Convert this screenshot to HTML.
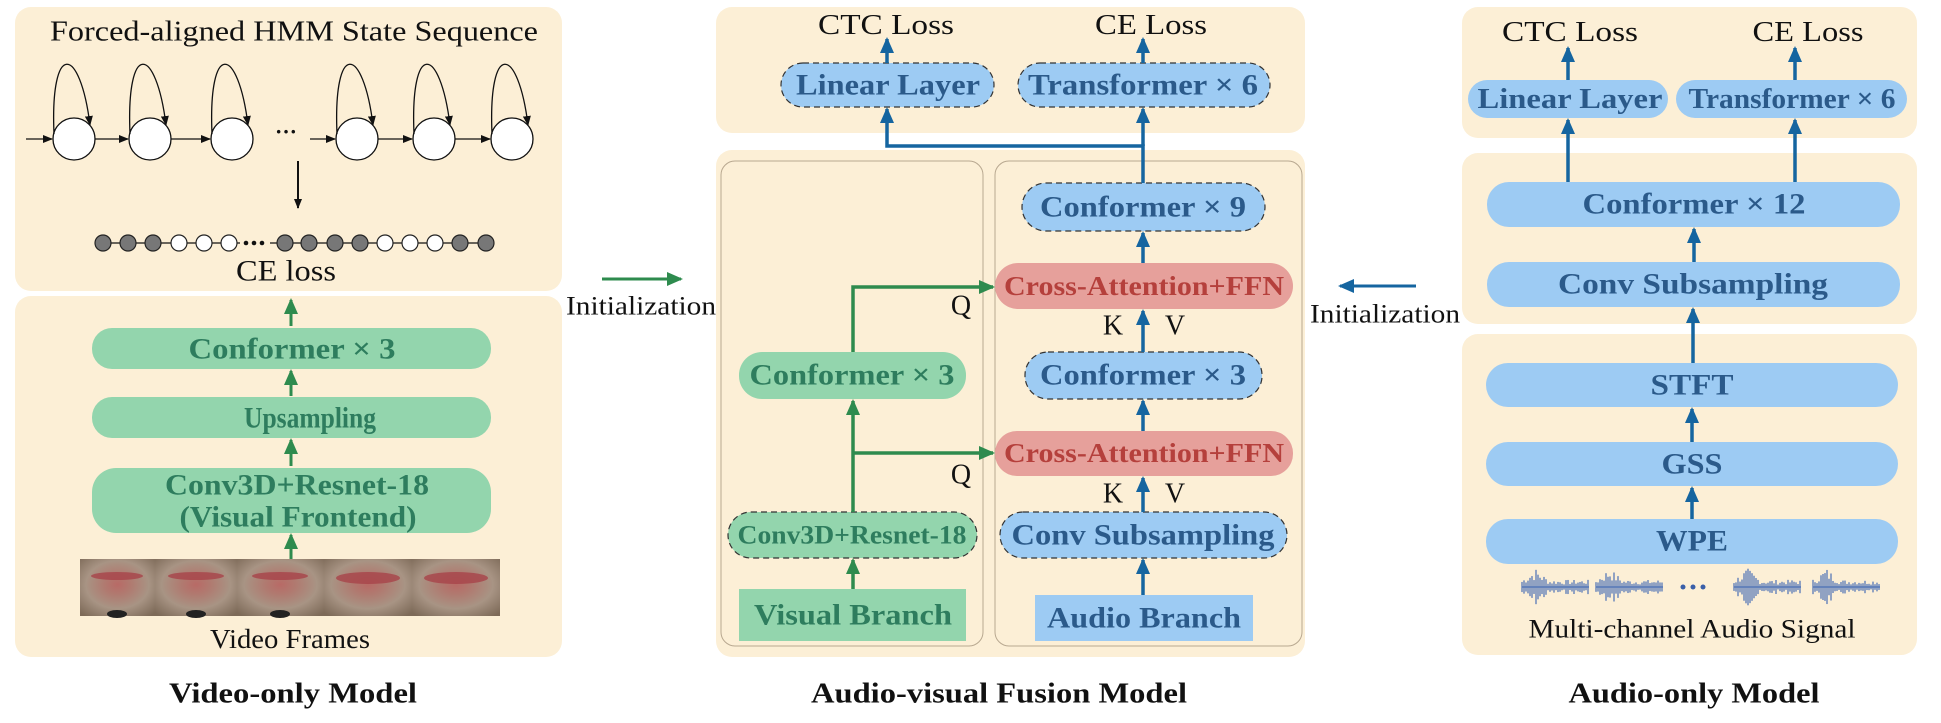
<!DOCTYPE html>
<html><head><meta charset="utf-8"><style>
html,body{margin:0;padding:0;background:#fff;}
svg{display:block;}
text{font-family:"Liberation Serif",serif;}
.b{font-weight:bold;}
</style></head><body>
<svg width="1941" height="723" viewBox="0 0 1941 723" xmlns="http://www.w3.org/2000/svg">
<defs>
<marker id="ak" markerWidth="10" markerHeight="8" refX="9" refY="4" orient="auto" markerUnits="userSpaceOnUse"><path d="M0,0 L10,4 L0,8 z" fill="#111"/></marker>
<marker id="ab" markerWidth="16" markerHeight="14" refX="14" refY="7" orient="auto" markerUnits="userSpaceOnUse"><path d="M0,0 L16,7 L0,14 z" fill="#1565a0"/></marker>
<marker id="ag" markerWidth="16" markerHeight="14" refX="14" refY="7" orient="auto" markerUnits="userSpaceOnUse"><path d="M0,0 L16,7 L0,14 z" fill="#2e8b4e"/></marker>
<radialGradient id="fr" cx="0.5" cy="0.45" r="0.7">
<stop offset="0" stop-color="#b86a66"/><stop offset="0.25" stop-color="#b07a70"/><stop offset="0.6" stop-color="#a89484"/><stop offset="1" stop-color="#7d6a58"/>
</radialGradient>
</defs>

<!-- ================= LEFT ================= -->
<rect x="15" y="7" width="547" height="284" rx="16" fill="#fcefd6"/>
<rect x="15" y="296" width="547" height="361" rx="16" fill="#fcefd6"/>
<text x="294" y="32" font-size="28" text-anchor="middle" dominant-baseline="central" textLength="488" lengthAdjust="spacingAndGlyphs" fill="#111">Forced-aligned HMM State Sequence</text>

<g fill="#fff" stroke="#111" stroke-width="1.3">
<circle cx="74" cy="139" r="21"/><circle cx="150" cy="139" r="21"/><circle cx="232" cy="139" r="21"/>
<circle cx="357" cy="139" r="21"/><circle cx="434" cy="139" r="21"/><circle cx="512" cy="139" r="21"/>
</g>
<g fill="none" stroke="#111" stroke-width="1.3" marker-end="url(#ak)">
<path d="M54,134 C50,40 80,45 90,125"/>
<path d="M130,134 C126,40 156,45 166,125"/>
<path d="M212,134 C208,40 238,45 248,125"/>
<path d="M337,134 C333,40 363,45 373,125"/>
<path d="M414,134 C410,40 440,45 450,125"/>
<path d="M492,134 C488,40 518,45 528,125"/>
<line x1="26" y1="139" x2="52" y2="139"/>
<line x1="95" y1="139" x2="128" y2="139"/>
<line x1="171" y1="139" x2="210" y2="139"/>
<line x1="310" y1="139" x2="335" y2="139"/>
<line x1="378" y1="139" x2="412" y2="139"/>
<line x1="455" y1="139" x2="490" y2="139"/>
</g>
<text x="286" y="139" font-size="22" text-anchor="middle" fill="#111" class="b">···</text>
<line x1="298" y1="161" x2="298" y2="208" stroke="#111" stroke-width="2" marker-end="url(#ak)"/>
<line x1="103" y1="243" x2="486" y2="243" stroke="#111" stroke-width="1.3"/>
<g stroke="#222" stroke-width="1.2">
<circle cx="103" cy="243" r="8" fill="#777"/><circle cx="128" cy="243" r="8" fill="#777"/><circle cx="153" cy="243" r="8" fill="#777"/>
<circle cx="179" cy="243" r="8" fill="#fff"/><circle cx="204" cy="243" r="8" fill="#fff"/><circle cx="229" cy="243" r="8" fill="#fff"/>
<circle cx="285" cy="243" r="8" fill="#777"/><circle cx="309" cy="243" r="8" fill="#777"/><circle cx="335" cy="243" r="8" fill="#777"/><circle cx="360" cy="243" r="8" fill="#777"/>
<circle cx="385" cy="243" r="8" fill="#fff"/><circle cx="410" cy="243" r="8" fill="#fff"/><circle cx="435" cy="243" r="8" fill="#fff"/>
<circle cx="460" cy="243" r="8" fill="#777"/><circle cx="486" cy="243" r="8" fill="#777"/>
</g>
<rect x="240" y="238" width="30" height="10" fill="#fcefd6"/>
<g fill="#111"><circle cx="246" cy="243" r="2.3"/><circle cx="254" cy="243" r="2.3"/><circle cx="262" cy="243" r="2.3"/></g>
<text x="286" y="271" font-size="30" text-anchor="middle" dominant-baseline="central" textLength="100" lengthAdjust="spacingAndGlyphs" fill="#111">CE loss</text>

<g fill="#93d5ad">
<rect x="92" y="328" width="399" height="41" rx="20"/>
<rect x="92" y="397" width="399" height="41" rx="20"/>
<rect x="92" y="468" width="399" height="65" rx="24"/>
</g>
<g fill="#2e7d5e" font-size="30" text-anchor="middle" dominant-baseline="central" lengthAdjust="spacingAndGlyphs">
<text x="292" y="349" class="b" textLength="207" lengthAdjust="spacingAndGlyphs">Conformer × 3</text>
<text x="310" y="418" class="b" textLength="132" lengthAdjust="spacingAndGlyphs">Upsampling</text>
<text x="297" y="485" class="b" textLength="264" lengthAdjust="spacingAndGlyphs">Conv3D+Resnet-18</text>
<text x="298" y="517" class="b" textLength="237" lengthAdjust="spacingAndGlyphs">(Visual Frontend)</text>
</g>
<g stroke="#2e8b4e" stroke-width="3" marker-end="url(#ag)">
<line x1="291" y1="326" x2="291" y2="300"/>
<line x1="291" y1="396" x2="291" y2="371"/>
<line x1="291" y1="466" x2="291" y2="440"/>
<line x1="291" y1="559" x2="291" y2="535"/>
</g>
<g>
<rect x="80" y="559" width="75" height="57" fill="url(#fr)"/>
<rect x="155" y="559" width="82" height="57" fill="url(#fr)"/>
<rect x="237" y="559" width="87" height="57" fill="url(#fr)"/>
<rect x="324" y="559" width="88" height="57" fill="url(#fr)"/>
<rect x="412" y="559" width="88" height="57" fill="url(#fr)"/>
<g fill="#a8444a" opacity="0.8">
<ellipse cx="117" cy="576" rx="26" ry="4"/><ellipse cx="196" cy="576" rx="28" ry="4"/><ellipse cx="280" cy="576" rx="28" ry="4"/>
<ellipse cx="368" cy="578" rx="32" ry="6"/><ellipse cx="456" cy="578" rx="32" ry="6"/>
</g>
<ellipse cx="117" cy="614" rx="10" ry="4" fill="#222"/><ellipse cx="196" cy="614" rx="10" ry="4" fill="#222"/><ellipse cx="280" cy="614" rx="10" ry="4" fill="#222"/>
</g>
<text x="290" y="639" font-size="27" text-anchor="middle" dominant-baseline="central" textLength="160" lengthAdjust="spacingAndGlyphs" fill="#111">Video Frames</text>
<text x="293" y="694" font-size="28" class="b" text-anchor="middle" dominant-baseline="central" textLength="248" lengthAdjust="spacingAndGlyphs" fill="#111">Video-only Model</text>

<line x1="602" y1="279" x2="681" y2="279" stroke="#2e8b4e" stroke-width="3" marker-end="url(#ag)"/>
<text x="566" y="306" font-size="26" dominant-baseline="central" textLength="150" lengthAdjust="spacingAndGlyphs" fill="#111">Initialization</text>

<!-- ================= MIDDLE ================= -->
<rect x="716" y="7" width="589" height="126" rx="16" fill="#fcefd6"/>
<rect x="716" y="150" width="589" height="507" rx="16" fill="#fcefd6"/>
<rect x="721" y="161" width="262" height="485" rx="14" fill="none" stroke="#b8a890" stroke-width="1"/>
<rect x="995" y="161" width="307" height="485" rx="14" fill="none" stroke="#b8a890" stroke-width="1"/>

<text x="886" y="25" font-size="29" text-anchor="middle" dominant-baseline="central" textLength="136" lengthAdjust="spacingAndGlyphs" fill="#111">CTC Loss</text>
<text x="1151" y="25" font-size="29" text-anchor="middle" dominant-baseline="central" textLength="112" lengthAdjust="spacingAndGlyphs" fill="#111">CE Loss</text>

<g fill="#9dcbf3" stroke="#333" stroke-width="1.2" stroke-dasharray="6,4">
<rect x="781" y="63" width="213" height="44" rx="22"/>
<rect x="1018" y="63" width="252" height="44" rx="22"/>
<rect x="1022" y="183" width="243" height="48" rx="24"/>
<rect x="1025" y="352" width="237" height="47" rx="23"/>
<rect x="1000" y="512" width="287" height="46" rx="23"/>
</g>
<g fill="#93d5ad" stroke="#333" stroke-width="1.2" stroke-dasharray="6,4">
<rect x="728" y="512" width="249" height="46" rx="23"/>
</g>
<rect x="739" y="352" width="227" height="47" rx="23" fill="#93d5ad"/>
<rect x="739" y="589" width="227" height="52" fill="#93d5ad"/>
<rect x="1035" y="595" width="218" height="46" fill="#9dcbf3"/>
<rect x="995" y="263" width="298" height="46" rx="23" fill="#e6a09b"/>
<rect x="995" y="431" width="298" height="45" rx="22" fill="#e6a09b"/>

<g fill="#2b5a8a" font-size="30" text-anchor="middle" dominant-baseline="central">
<text x="888" y="85" class="b" textLength="184" lengthAdjust="spacingAndGlyphs">Linear Layer</text>
<text x="1143" y="85" class="b" textLength="230" lengthAdjust="spacingAndGlyphs">Transformer × 6</text>
<text x="1143" y="207" class="b" textLength="206" lengthAdjust="spacingAndGlyphs">Conformer × 9</text>
<text x="1143" y="375" class="b" textLength="206" lengthAdjust="spacingAndGlyphs">Conformer × 3</text>
<text x="1143" y="535" class="b" textLength="263" lengthAdjust="spacingAndGlyphs">Conv Subsampling</text>
<text x="1144" y="618" class="b" textLength="194" lengthAdjust="spacingAndGlyphs">Audio Branch</text>
</g>
<g fill="#b5403c" font-size="27" text-anchor="middle" dominant-baseline="central">
<text x="1144" y="286" class="b" textLength="280" lengthAdjust="spacingAndGlyphs">Cross-Attention+FFN</text>
<text x="1144" y="453" class="b" textLength="280" lengthAdjust="spacingAndGlyphs">Cross-Attention+FFN</text>
</g>
<g fill="#2e7d5e" text-anchor="middle" dominant-baseline="central">
<text x="852" y="375" font-size="30" class="b" textLength="205" lengthAdjust="spacingAndGlyphs">Conformer × 3</text>
<text x="852" y="535" font-size="26" class="b" textLength="229" lengthAdjust="spacingAndGlyphs">Conv3D+Resnet-18</text>
<text x="853" y="615" font-size="30" class="b" textLength="198" lengthAdjust="spacingAndGlyphs">Visual Branch</text>
</g>

<g stroke="#1565a0" stroke-width="3.5" fill="none">
<line x1="887" y1="63" x2="887" y2="39" marker-end="url(#ab)"/>
<line x1="1143" y1="63" x2="1143" y2="39" marker-end="url(#ab)"/>
<polyline points="1143,183 1143,146 887,146 887,109" marker-end="url(#ab)"/>
<line x1="1143" y1="146" x2="1143" y2="109" marker-end="url(#ab)"/>
<line x1="1143" y1="263" x2="1143" y2="233" marker-end="url(#ab)"/>
<line x1="1143" y1="352" x2="1143" y2="311" marker-end="url(#ab)"/>
<line x1="1143" y1="431" x2="1143" y2="401" marker-end="url(#ab)"/>
<line x1="1143" y1="512" x2="1143" y2="478" marker-end="url(#ab)"/>
<line x1="1143" y1="595" x2="1143" y2="560" marker-end="url(#ab)"/>
</g>
<g stroke="#2e8b4e" stroke-width="3.5" fill="none">
<line x1="853" y1="589" x2="853" y2="560" marker-end="url(#ag)"/>
<line x1="853" y1="512" x2="853" y2="401" marker-end="url(#ag)"/>
<polyline points="853,453 993,453" marker-end="url(#ag)"/>
<polyline points="853,352 853,287 993,287" marker-end="url(#ag)"/>
</g>
<g fill="#111" font-size="28" text-anchor="middle" dominant-baseline="central">
<text x="961" y="306">Q</text><text x="961" y="475">Q</text>
<text x="1113" y="326">K</text><text x="1175" y="326">V</text>
<text x="1113" y="494">K</text><text x="1175" y="494">V</text>
</g>
<text x="999" y="694" font-size="28" class="b" text-anchor="middle" dominant-baseline="central" textLength="376" lengthAdjust="spacingAndGlyphs" fill="#111">Audio-visual Fusion Model</text>

<line x1="1416" y1="286" x2="1340" y2="286" stroke="#1565a0" stroke-width="3" marker-end="url(#ab)"/>
<text x="1310" y="314" font-size="26" dominant-baseline="central" textLength="150" lengthAdjust="spacingAndGlyphs" fill="#111">Initialization</text>

<!-- ================= RIGHT ================= -->
<rect x="1462" y="7" width="455" height="131" rx="16" fill="#fcefd6"/>
<rect x="1462" y="153" width="455" height="171" rx="16" fill="#fcefd6"/>
<rect x="1462" y="334" width="455" height="321" rx="16" fill="#fcefd6"/>
<text x="1570" y="32" font-size="29" text-anchor="middle" dominant-baseline="central" textLength="136" lengthAdjust="spacingAndGlyphs" fill="#111">CTC Loss</text>
<text x="1808" y="32" font-size="29" text-anchor="middle" dominant-baseline="central" textLength="111" lengthAdjust="spacingAndGlyphs" fill="#111">CE Loss</text>
<g fill="#9dcbf3">
<rect x="1468" y="80" width="200" height="38" rx="19"/>
<rect x="1676" y="80" width="231" height="38" rx="19"/>
<rect x="1487" y="182" width="413" height="45" rx="22"/>
<rect x="1487" y="262" width="413" height="45" rx="22"/>
<rect x="1486" y="363" width="412" height="44" rx="22"/>
<rect x="1486" y="442" width="412" height="44" rx="22"/>
<rect x="1486" y="519" width="412" height="45" rx="22"/>
</g>
<g fill="#2b5a8a" text-anchor="middle" dominant-baseline="central">
<text x="1570" y="99" font-size="29" class="b" textLength="185" lengthAdjust="spacingAndGlyphs">Linear Layer</text>
<text x="1792" y="99" font-size="29" class="b" textLength="207" lengthAdjust="spacingAndGlyphs">Transformer × 6</text>
<text x="1694" y="204" font-size="30" class="b" textLength="223" lengthAdjust="spacingAndGlyphs">Conformer × 12</text>
<text x="1693" y="284" font-size="30" class="b" textLength="270" lengthAdjust="spacingAndGlyphs">Conv  Subsampling</text>
<text x="1692" y="385" font-size="30" class="b" textLength="83" lengthAdjust="spacingAndGlyphs">STFT</text>
<text x="1692" y="464" font-size="30" class="b" textLength="61" lengthAdjust="spacingAndGlyphs">GSS</text>
<text x="1692" y="541" font-size="30" class="b" textLength="72" lengthAdjust="spacingAndGlyphs">WPE</text>
</g>
<g stroke="#1565a0" stroke-width="3.5">
<line x1="1568" y1="80" x2="1568" y2="48" marker-end="url(#ab)"/>
<line x1="1795" y1="80" x2="1795" y2="48" marker-end="url(#ab)"/>
<line x1="1568" y1="182" x2="1568" y2="120" marker-end="url(#ab)"/>
<line x1="1795" y1="182" x2="1795" y2="120" marker-end="url(#ab)"/>
<line x1="1694" y1="262" x2="1694" y2="229" marker-end="url(#ab)"/>
<line x1="1693" y1="363" x2="1693" y2="309" marker-end="url(#ab)"/>
<line x1="1692" y1="442" x2="1692" y2="409" marker-end="url(#ab)"/>
<line x1="1692" y1="519" x2="1692" y2="488" marker-end="url(#ab)"/>
</g>
<g id="waves" stroke="#4a6fb5" stroke-width="1.2"></g>
<g fill="#3a5fa8"><circle cx="1683" cy="587" r="2.5"/><circle cx="1693" cy="587" r="2.5"/><circle cx="1703" cy="587" r="2.5"/></g>
<text x="1692" y="629" font-size="26" text-anchor="middle" dominant-baseline="central" textLength="327" lengthAdjust="spacingAndGlyphs" fill="#111">Multi-channel  Audio Signal</text>
<text x="1694" y="694" font-size="28" class="b" text-anchor="middle" dominant-baseline="central" textLength="251" lengthAdjust="spacingAndGlyphs" fill="#111">Audio-only Model</text>
</svg>
<script>
(function(){
var g=document.getElementById('waves');var ns='http://www.w3.org/2000/svg';
var segs=[[1522,1589],[1596,1663],[1734,1801],[1813,1880]];var s=7;
function r(){s=(s*9301+49297)%233280;return s/233280;}
segs.forEach(function(sg){
 var l=document.createElementNS(ns,'line');l.setAttribute('x1',sg[0]);l.setAttribute('x2',sg[1]);l.setAttribute('y1',587);l.setAttribute('y2',587);g.appendChild(l);
 for(var x=sg[0];x<=sg[1];x+=2){var t=(x-sg[0])/(sg[1]-sg[0]);var a=(t<0.4?16*(1-Math.abs(t-0.2)*3):6)*(0.4+r()*0.8);
  var v=document.createElementNS(ns,'line');v.setAttribute('x1',x);v.setAttribute('x2',x);v.setAttribute('y1',587-a);v.setAttribute('y2',587+a);g.appendChild(v);}
});
})();
</script>
</body></html>
